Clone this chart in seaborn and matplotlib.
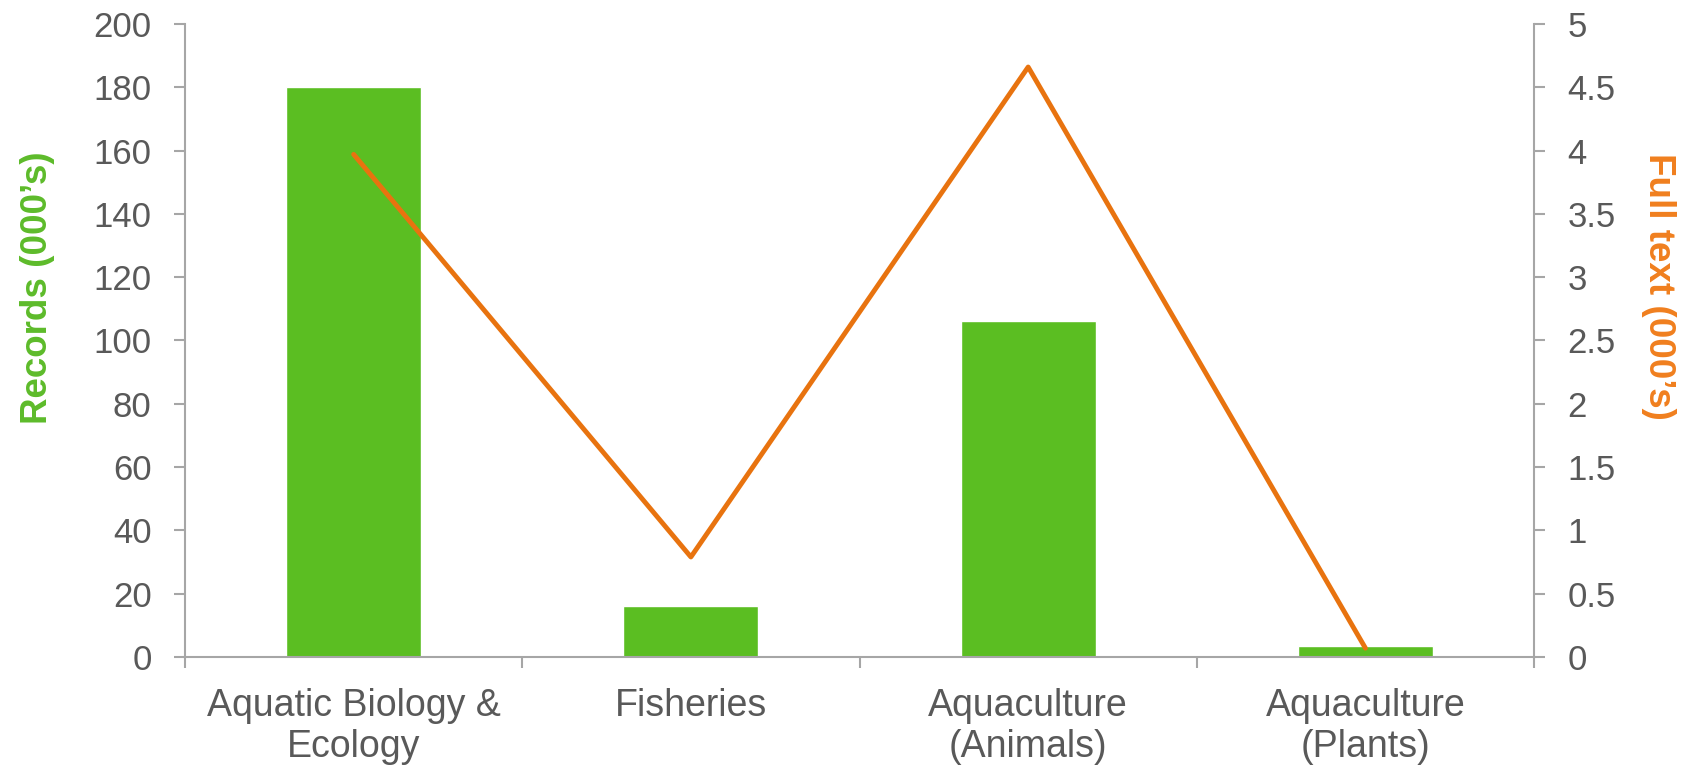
import numpy as np
import seaborn as sns
import matplotlib.pyplot as plt
from matplotlib.ticker import FixedLocator, MultipleLocator

categories = ["Aquatic Biology &\nEcology", "Fisheries", "Aquaculture\n(Animals)", "Aquaculture\n(Plants)"]
records = [180, 16, 106, 3.4]
full_text = [3.97, 0.79, 4.66, 0.07]

green = "#5BBE22"
orange = "#E8730F"
green_lbl = "#5DBB2A"
orange_lbl = "#F07F1E"
grey_txt = "#595959"
grey_ax = "#A6A6A6"

sns.set_theme(style="white")
plt.rcParams["font.family"] = ["Liberation Sans", "DejaVu Sans"]

fig = plt.figure(figsize=(16.88, 7.66), dpi=100)
ax = fig.add_axes([0.1096, 0.1423, 0.7992, 0.8264])

sns.barplot(x=categories, y=records, color=green, saturation=1, width=0.4, ax=ax)
ax.set_xlim(-0.5, 3.5)
ax.set_ylim(0, 200)
ax.yaxis.set_major_locator(MultipleLocator(20))

ax2 = ax.twinx()
sns.lineplot(x=np.arange(len(categories)), y=full_text, color=orange, lw=3.5, ax=ax2)
ax2.set_ylim(0, 5)
ax2.yaxis.set_major_locator(MultipleLocator(0.5))
ax2.set_yticklabels([f"{v:g}" for v in ax2.get_yticks()])
ax2.set_xlim(-0.5, 3.5)

for a in (ax, ax2):
    for s in a.spines.values():
        s.set_color(grey_ax)
        s.set_linewidth(1.5)
    a.spines["top"].set_visible(False)

ax.spines["right"].set_visible(False)
ax2.spines["left"].set_visible(False)
ax2.spines["bottom"].set_visible(False)

ax.tick_params(axis="y", which="major", length=8, width=1.5, color=grey_ax,
               labelsize=25, labelcolor=grey_txt, pad=16, left=True)
ax2.tick_params(axis="y", which="major", length=8, width=1.5, color=grey_ax,
                labelsize=25, labelcolor=grey_txt, pad=16, right=True)
ax.xaxis.set_minor_locator(FixedLocator(np.arange(-0.5, 4, 1)))
ax.tick_params(axis="x", which="major", length=0, labelsize=27, labelcolor=grey_txt, pad=22)
ax.tick_params(axis="x", which="minor", length=8, width=1.5, color=grey_ax, bottom=True)
for lbl in ax.get_xticklabels():
    lbl.set_linespacing(1.2)

ax.set_xlabel("")
ax.set_ylabel("Records (000\u2019s)", color=green_lbl, fontsize=26.5, fontweight="bold",
              va="center", ha="center", rotation_mode="anchor")
ax.yaxis.set_label_coords(-0.109, 0.584)
ax2.set_ylabel("Full text (000\u2019s)", color=orange_lbl, fontsize=26.5, fontweight="bold",
               rotation=270, va="center", ha="center", rotation_mode="anchor")
ax2.yaxis.set_label_coords(1.092, 0.585)

fig.savefig("out.png", dpi=100)
